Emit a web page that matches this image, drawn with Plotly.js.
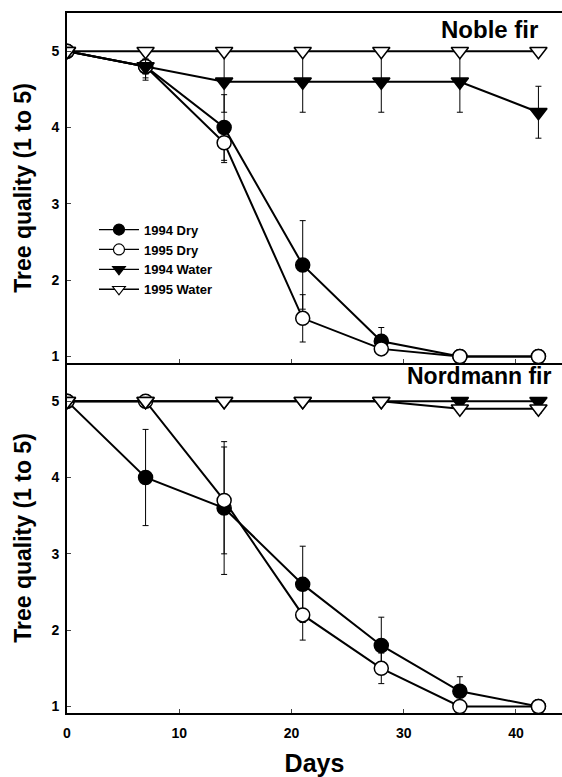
<!DOCTYPE html>
<html>
<head>
<meta charset="utf-8">
<script src="https://cdn.plot.ly/plotly-3.0.1.min.js"></script>
<style>html,body{margin:0;padding:0;background:#fff;}#chart{width:562px;height:777px;}</style>
</head>
<body>
<div id="chart"></div>
<script>
// ---- data ----
const days = [0, 7, 14, 21, 28, 35, 42];
const seriesNames = ["1994 Dry", "1995 Dry", "1994 Water", "1995 Water"];
const panelTitles = ["Noble fir", "Nordmann fir"];
const xTicks = [0, 10, 20, 30, 40];
const yTicks = [1, 2, 3, 4, 5];

// Noble fir
const noble1994Dry = [5, 4.8, 4.0, 2.2, 1.2, 1.0, 1.0];
const noble1994DryErr = [0, 0.15, 0.43, 0.58, 0.18, 0, 0];
const noble1995Dry = [5, 4.8, 3.8, 1.5, 1.1, 1.0, 1.0];
const noble1995DryErr = [0, 0.1, 0.26, 0.31, 0.08, 0, 0];
const noble1994Water = [5, 4.8, 4.6, 4.6, 4.6, 4.6, 4.2];
const noble1994WaterErr = [0, 0.18, 0.4, 0.4, 0.4, 0.4, 0.34];
const noble1995Water = [5, 5, 5, 5, 5, 5, 5];
const noble1995WaterErr = [0, 0, 0, 0, 0, 0, 0];

// Nordmann fir
const nord1994Dry = [5, 4.0, 3.6, 2.6, 1.8, 1.2, 1.0];
const nord1994DryErr = [0, 0.63, 0.87, 0.5, 0.37, 0.19, 0];
const nord1995Dry = [5, 5, 3.7, 2.2, 1.5, 1.0, 1.0];
const nord1995DryErr = [0, 0, 0.7, 0.33, 0.2, 0, 0];
const nord1994Water = [5, 5, 5, 5, 5, 5, 5];
const nord1994WaterErr = [0, 0, 0, 0, 0, 0, 0];
const nord1995Water = [5, 5, 5, 5, 5, 4.9, 4.9];
const nord1995WaterErr = [0, 0, 0, 0, 0, 0.06, 0.06];

// ---- styles ----
const FONT = "Liberation Sans, Arial, sans-serif";
const styles = [
  {symbol: "circle", color: "#000", size: 14},
  {symbol: "circle", color: "#fff", size: 14},
  {symbol: "triangle-down", color: "#000", size: 15},
  {symbol: "triangle-down", color: "#fff", size: 15}
];

function mk(y, err, idx, xa, ya) {
  const s = styles[idx];
  return {
    type: "scatter", mode: "lines+markers",
    x: days, y: y, xaxis: xa, yaxis: ya,
    name: seriesNames[idx], showlegend: false,
    line: {color: "#000", width: 2},
    marker: {symbol: s.symbol, size: s.size, color: s.color, line: {color: "#000", width: 1.5}},
    error_y: {type: "data", array: err, visible: true, color: "#000", thickness: 1, width: 3}
  };
}
// legend-only entries (no data points drawn), thinner sample line as in the reference legend
function legendEntry(idx) {
  const s = styles[idx];
  return {
    type: "scatter", mode: "lines+markers", x: [null], y: [null], xaxis: "x2", yaxis: "y2",
    name: seriesNames[idx], showlegend: true,
    line: {color: "#000", width: 1.3},
    marker: {symbol: s.symbol, size: 11, color: s.color, line: {color: "#000", width: 1.2}}
  };
}

const traces = [
  mk(noble1994Dry, noble1994DryErr, 0, "x2", "y2"),
  mk(noble1995Dry, noble1995DryErr, 1, "x2", "y2"),
  mk(noble1994Water, noble1994WaterErr, 2, "x2", "y2"),
  mk(noble1995Water, noble1995WaterErr, 3, "x2", "y2"),
  mk(nord1994Dry, nord1994DryErr, 0, "x", "y"),
  mk(nord1995Dry, nord1995DryErr, 1, "x", "y"),
  mk(nord1994Water, nord1994WaterErr, 2, "x", "y"),
  mk(nord1995Water, nord1995WaterErr, 3, "x", "y"),
  legendEntry(0), legendEntry(1), legendEntry(2), legendEntry(3)
];

const tickFont = {family: FONT, size: 14, color: "#000", weight: "bold"};
const yTitleFont = {family: FONT, size: 23, color: "#000", weight: "bold"};
const xTitleFont = {family: FONT, size: 25, color: "#000", weight: "bold"};

const yCommon = {
  range: [0.915, 5.5], tickvals: yTicks, ticks: "inside", ticklen: 4, tickwidth: 1,
  showline: true, linecolor: "#000", linewidth: 2, showgrid: false, zeroline: false,
  tickfont: tickFont, ticklabelstandoff: 3,
  title: {text: "Tree quality (1 to 5)", font: yTitleFont, standoff: 13}
};
const xCommon = {
  range: [0, 44.1], tickvals: xTicks, ticks: "inside", ticklen: 4, tickwidth: 1,
  showline: true, linecolor: "#000", linewidth: 2, showgrid: false, zeroline: false,
  tickfont: tickFont, ticklabelstandoff: 6
};

const layout = {
  width: 562, height: 777,
  margin: {l: 67, r: 0, t: 13, b: 64},
  paper_bgcolor: "#fff", plot_bgcolor: "#fff",
  showlegend: true,
  legend: {x: 0.0545, y: 0.712, xanchor: "left", yanchor: "top", bgcolor: "rgba(0,0,0,0)",
           itemwidth: 40, traceorder: "normal",
           font: {family: FONT, size: 13, color: "#000", weight: "bold"}, itemsizing: "trace"},
  xaxis: Object.assign({}, xCommon, {anchor: "y", domain: [0, 1],
           title: {text: "Days", font: xTitleFont, standoff: 24}}),
  yaxis: Object.assign({}, yCommon, {anchor: "x", domain: [0, 0.5]}),
  xaxis2: Object.assign({}, xCommon, {anchor: "y2", domain: [0, 1], showticklabels: false, mirror: true}),
  yaxis2: Object.assign({}, yCommon, {anchor: "x2", domain: [0.5, 1]}),
  annotations: [
    {text: panelTitles[0], xref: "paper", yref: "paper", x: 0.956, y: 0.976, xanchor: "right", yanchor: "middle",
     showarrow: false, font: {family: FONT, size: 24, color: "#000", weight: "bold"}},
    {text: panelTitles[1], xref: "paper", yref: "paper", x: 0.982, y: 0.481, xanchor: "right", yanchor: "middle",
     showarrow: false, font: {family: FONT, size: 23, color: "#000", weight: "bold"}}
  ]
};

Plotly.newPlot("chart", traces, layout, {displayModeBar: false, staticPlot: true});
</script>
</body>
</html>
